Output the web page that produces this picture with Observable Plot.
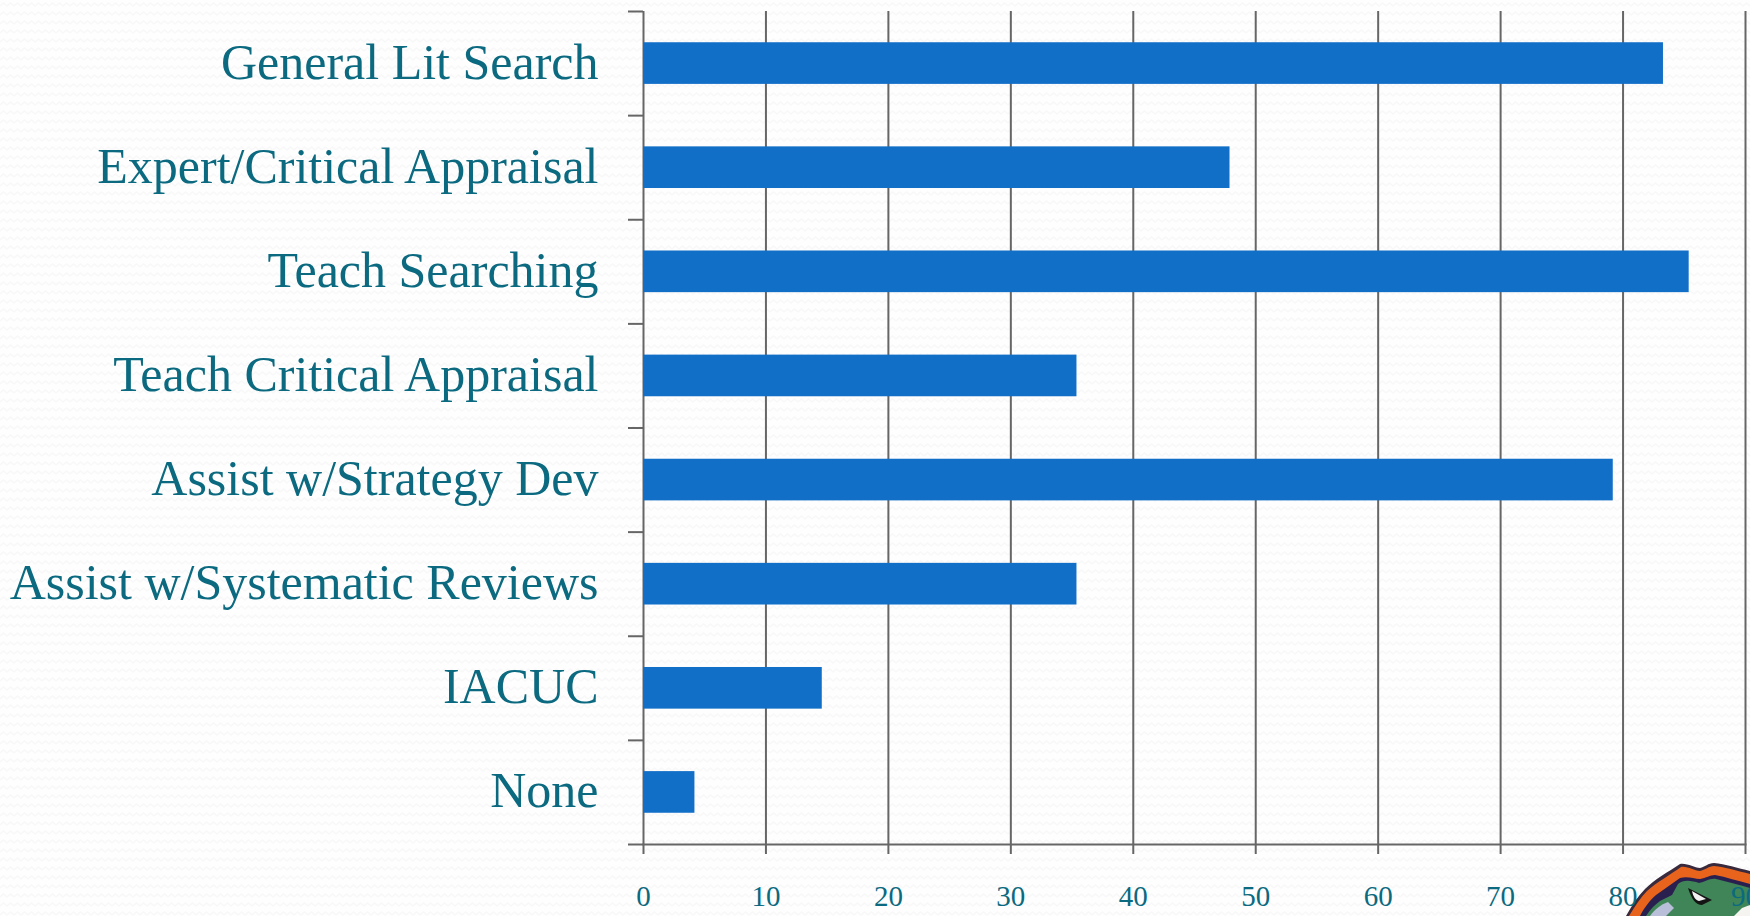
<!DOCTYPE html>
<html>
<head>
<meta charset="utf-8">
<script src="https://cdn.jsdelivr.net/npm/d3@7"></script>
<script src="https://cdn.jsdelivr.net/npm/@observablehq/plot@0.6"></script>
<style>
html,body{margin:0;padding:0;width:1750px;height:916px;overflow:hidden;background-color:#fefefe;
background-image:url("data:image/svg+xml,%3Csvg xmlns='http://www.w3.org/2000/svg' width='14' height='9'%3E%3Cpath d='M0 6 L3.5 3 L7 6 L10.5 3 L14 6' fill='none' stroke='%23f8f8f8' stroke-width='1.6'/%3E%3C/svg%3E");}
#chart{position:relative;width:1750px;height:916px;}
#chart svg.chartplot{display:block;background:transparent;position:absolute;left:0;top:0;}
#logo{position:absolute;left:0;top:0;}
</style>
</head>
<body>
<div id="chart">
<svg id="logo" width="1750" height="916" viewBox="0 0 1750 916">
  <path d="M1626 916 C1632 905 1638 896 1645 889 C1655 879 1668 872 1680 864 C1688 863 1694 868 1700 868 C1705 867 1708 863 1714 863 C1725 864 1738 868 1750 871 L1750 916 Z" fill="#3a2a3d"/>
  <path d="M1629 916 C1635 906 1641 897 1647 891 C1657 882 1670 875 1681 867 C1688 866 1694 871 1700 871 C1705 870 1709 866 1714 866 C1725 867 1738 871 1750 874 L1750 916 Z" fill="#e8641c"/>
  <path d="M1640 916 C1644 908 1650 900 1656 895 C1664 889 1672 884 1680 878 C1688 876 1694 879 1700 879 C1706 878 1710 875 1715 875 C1726 877 1738 881 1750 884 L1750 916 Z" fill="#2a2050"/>
  <path d="M1646 916 C1650 909 1656 904 1660 901 L1672 895 L1678 884 C1684 879 1692 881 1699 883 C1705 882 1710 878 1716 879 C1728 882 1740 885 1750 888 L1750 916 Z" fill="#3f8557"/>
  <path d="M1650 916 C1654 910 1660 905 1668 902 L1674 908 L1666 916 Z" fill="#b9bfd8"/>
  <path d="M1688 888 L1712 900 L1702 905 C1696 905 1692 900 1688 888 Z" fill="#141414"/>
  <path d="M1692 891 L1706 899 L1699 901 C1695 900 1693 896 1692 891 Z" fill="#f2f0f0"/>
  <path d="M1734 916 L1742 908 L1750 905 L1750 916 Z" fill="#f6f4f0"/>
</svg>
</div>
<script>
const categories = ["General Lit Search","Expert/Critical Appraisal","Teach Searching","Teach Critical Appraisal","Assist w/Strategy Dev","Assist w/Systematic Reviews","IACUC","None"];
const values = [83.3,47.9,85.4,35.4,79.2,35.4,14.6,4.2];
const xTicks = [0,10,20,30,40,50,60,70,80,90];
const rows = categories.map((category,i)=>({category,value:values[i]}));
const axisColor = "#666666", textColor = "#0b6a80", barColor = "#116fc7";
const fontFamily = "'Liberation Serif', serif";
const step = (916-11-72)/categories.length;
const plot = Plot.plot({
  width:1750,height:916,
  marginLeft:643,marginRight:5,marginTop:11,marginBottom:72,
  style:{background:"transparent",fontFamily},
  x:{domain:[0,90],label:null},
  y:{domain:categories,paddingInner:0.6,paddingOuter:0.3,label:null,round:false},
  marks:[
    Plot.ruleX(xTicks,{stroke:axisColor,strokeWidth:2,strokeOpacity:1}),
    Plot.barX(rows,{x:"value",y:"category",fill:barColor}),
    Plot.frame({anchor:"bottom",stroke:axisColor,strokeWidth:2}),
    Plot.axisY({tickSize:0,tickPadding:45,fontSize:50,dy:-1,color:textColor,label:null,textStroke:"none"}),
    Plot.axisY(categories,{tickSize:15,dy:step/2,tickFormat:null,stroke:axisColor,strokeWidth:2,label:null}),
    Plot.axisY(categories.slice(0,1),{tickSize:15,dy:-step/2,tickFormat:null,stroke:axisColor,strokeWidth:2,label:null}),
    Plot.axisX({ticks:xTicks,tickSize:10,tickPadding:31,fontSize:29,color:textColor,stroke:axisColor,strokeWidth:2,label:null,textStroke:"none"})
  ]
});
plot.classList.add("chartplot");
document.getElementById("chart").append(plot);
</script>
</body>
</html>
